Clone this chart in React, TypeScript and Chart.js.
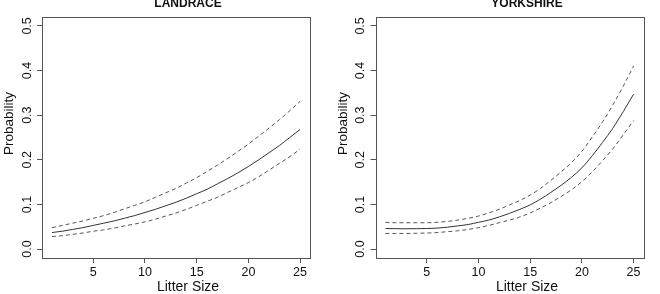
import React, { useEffect, useRef } from "react";
import { Chart, registerables } from "chart.js";

Chart.register(...registerables);

const FONT = "'Liberation Sans', Arial, Helvetica, sans-serif";

// Litter size categories (x values)
const LITTER_SIZE = [1, 2, 3, 4, 5, 6, 7, 8, 9, 10, 11, 12, 13, 14, 15, 16, 17, 18, 19, 20, 21, 22, 23, 24, 25];
const X_TICKS = [5, 10, 15, 20, 25];
const Y_TICKS = [0, 0.1, 0.2, 0.3, 0.4, 0.5];
const X_LIMITS = [0.04, 25.96];
const Y_LIMITS = [-0.02, 0.52];

// LANDRACE: fitted probability and confidence band
const LANDRACE_FIT = [0.037, 0.040, 0.044, 0.048, 0.053, 0.058, 0.063, 0.069, 0.075, 0.082, 0.089, 0.097, 0.105, 0.114, 0.124, 0.134, 0.146, 0.158, 0.171, 0.185, 0.200, 0.216, 0.232, 0.250, 0.268];
const LANDRACE_UPPER = [0.048, 0.053, 0.058, 0.063, 0.069, 0.075, 0.082, 0.090, 0.098, 0.106, 0.116, 0.126, 0.136, 0.148, 0.160, 0.174, 0.188, 0.203, 0.219, 0.235, 0.253, 0.271, 0.290, 0.310, 0.331];
const LANDRACE_LOWER = [0.028, 0.030, 0.033, 0.036, 0.040, 0.043, 0.047, 0.052, 0.056, 0.061, 0.067, 0.074, 0.081, 0.089, 0.098, 0.107, 0.116, 0.127, 0.138, 0.149, 0.162, 0.177, 0.192, 0.207, 0.224];

// YORKSHIRE: fitted probability and confidence band
const YORKSHIRE_FIT = [0.046, 0.0457, 0.0454, 0.0457, 0.046, 0.047, 0.049, 0.052, 0.055, 0.060, 0.065, 0.072, 0.080, 0.089, 0.099, 0.112, 0.127, 0.143, 0.161, 0.182, 0.209, 0.239, 0.271, 0.308, 0.347];
const YORKSHIRE_UPPER = [0.060, 0.059, 0.059, 0.059, 0.059, 0.060, 0.062, 0.065, 0.069, 0.074, 0.081, 0.089, 0.099, 0.109, 0.121, 0.136, 0.154, 0.173, 0.194, 0.219, 0.251, 0.285, 0.323, 0.365, 0.410];
const YORKSHIRE_LOWER = [0.035, 0.035, 0.035, 0.0354, 0.036, 0.037, 0.039, 0.041, 0.044, 0.048, 0.053, 0.059, 0.065, 0.072, 0.081, 0.092, 0.104, 0.118, 0.133, 0.151, 0.173, 0.198, 0.225, 0.256, 0.288];

const X_LABEL = "Litter Size";
const Y_LABEL = "Probability";

type PanelLayout = {
  axisWidth: number;
  padRight: number;
  titleX: number;
  xLabelX: number;
  yLabelX: number;
};

const decorPlugin = {
  id: "decor",
  afterDraw(chart: any, _args: any, opts: any) {
    const { ctx, chartArea: a } = chart;
    ctx.save();
    ctx.strokeStyle = "#555";
    ctx.lineWidth = 1;
    ctx.strokeRect(
      Math.round(a.left) + 0.5,
      Math.round(a.top) + 0.5,
      Math.round(a.right) - Math.round(a.left),
      Math.round(a.bottom) - Math.round(a.top)
    );
    ctx.fillStyle = "#111";
    ctx.textAlign = "center";
    ctx.textBaseline = "alphabetic";
    ctx.font = `bold 12px ${FONT}`;
    ctx.fillText(opts.title, opts.titleX, 7);
    ctx.font = `14px ${FONT}`;
    ctx.fillText(opts.xLabel, opts.xLabelX, 291);
    ctx.translate(opts.yLabelX, 123.5);
    ctx.rotate(-Math.PI / 2);
    ctx.font = `13.5px ${FONT}`;
    ctx.fillText(opts.yLabel, 0, 0);
    ctx.restore();
  },
};

function Panel(props: { title: string; fit: number[]; upper: number[]; lower: number[]; layout: PanelLayout }) {
  const ref = useRef<HTMLCanvasElement | null>(null);
  useEffect(() => {
    const canvas = ref.current;
    if (!canvas) return;
    const { layout } = props;
    const toPts = (arr: number[]) => LITTER_SIZE.map((x, i) => ({ x, y: arr[i] }));
    const lineBase = {
      pointRadius: 0,
      borderWidth: 1,
      fill: false,
      cubicInterpolationMode: "monotone" as const,
    };
    const gridOpts = {
      display: true,
      drawOnChartArea: false,
      drawTicks: true,
      tickLength: 5,
      tickColor: "#555",
      tickWidth: 1,
    };
    const chart = new Chart(canvas, {
      type: "line",
      data: {
        datasets: [
          { ...lineBase, data: toPts(props.upper), borderColor: "#555", borderDash: [4, 3] },
          { ...lineBase, data: toPts(props.fit), borderColor: "#333" },
          { ...lineBase, data: toPts(props.lower), borderColor: "#555", borderDash: [4, 3] },
        ],
      },
      options: {
        animation: false,
        responsive: false,
        devicePixelRatio: 1,
        layout: { padding: { left: 0, right: layout.padRight, top: 17, bottom: 0 } },
        plugins: {
          legend: { display: false },
          title: { display: false },
          tooltip: { enabled: false },
          decor: {
            title: props.title,
            titleX: layout.titleX,
            xLabel: X_LABEL,
            xLabelX: layout.xLabelX,
            yLabel: Y_LABEL,
            yLabelX: layout.yLabelX,
          },
        } as any,
        scales: {
          x: {
            type: "linear",
            min: X_LIMITS[0],
            max: X_LIMITS[1],
            afterBuildTicks: (s: any) => {
              s.ticks = X_TICKS.map((v) => ({ value: v }));
            },
            afterFit: (s: any) => {
              s.height = 36;
            },
            grid: gridOpts,
            border: { display: false },
            ticks: {
              autoSkip: false,
              maxRotation: 0,
              minRotation: 0,
              padding: 2,
              color: "#111",
              font: { family: FONT, size: 12.5 },
              callback: (v: any) => String(v),
            },
          },
          y: {
            type: "linear",
            min: Y_LIMITS[0],
            max: Y_LIMITS[1],
            afterBuildTicks: (s: any) => {
              s.ticks = Y_TICKS.map((v) => ({ value: v }));
            },
            afterFit: (s: any) => {
              s.width = layout.axisWidth;
            },
            grid: gridOpts,
            border: { display: false },
            ticks: {
              autoSkip: false,
              minRotation: 90,
              maxRotation: 90,
              crossAlign: "center",
              padding: 1,
              color: "#111",
              font: { family: FONT, size: 12.5 },
              callback: (v: any) => Number(v).toFixed(1),
            },
          },
        },
      },
      plugins: [decorPlugin],
    } as any);
    return () => chart.destroy();
  }, []);
  return <canvas ref={ref} width={330} height={294} style={{ display: "block", width: 330, height: 294 }} />;
}

export default function App() {
  return (
    <div style={{ position: "absolute", left: 0, top: 0, width: 660, height: 294, display: "flex", background: "#fff" }}>
      <Panel
        title="LANDRACE"
        fit={LANDRACE_FIT}
        upper={LANDRACE_UPPER}
        lower={LANDRACE_LOWER}
        layout={{ axisWidth: 42, padRight: 20, titleX: 188, xLabelX: 188, yLabelX: 13 }}
      />
      <Panel
        title="YORKSHIRE"
        fit={YORKSHIRE_FIT}
        upper={YORKSHIRE_UPPER}
        lower={YORKSHIRE_LOWER}
        layout={{ axisWidth: 45.5, padRight: 16.5, titleX: 197, xLabelX: 197, yLabelX: 16.5 }}
      />
    </div>
  );
}
